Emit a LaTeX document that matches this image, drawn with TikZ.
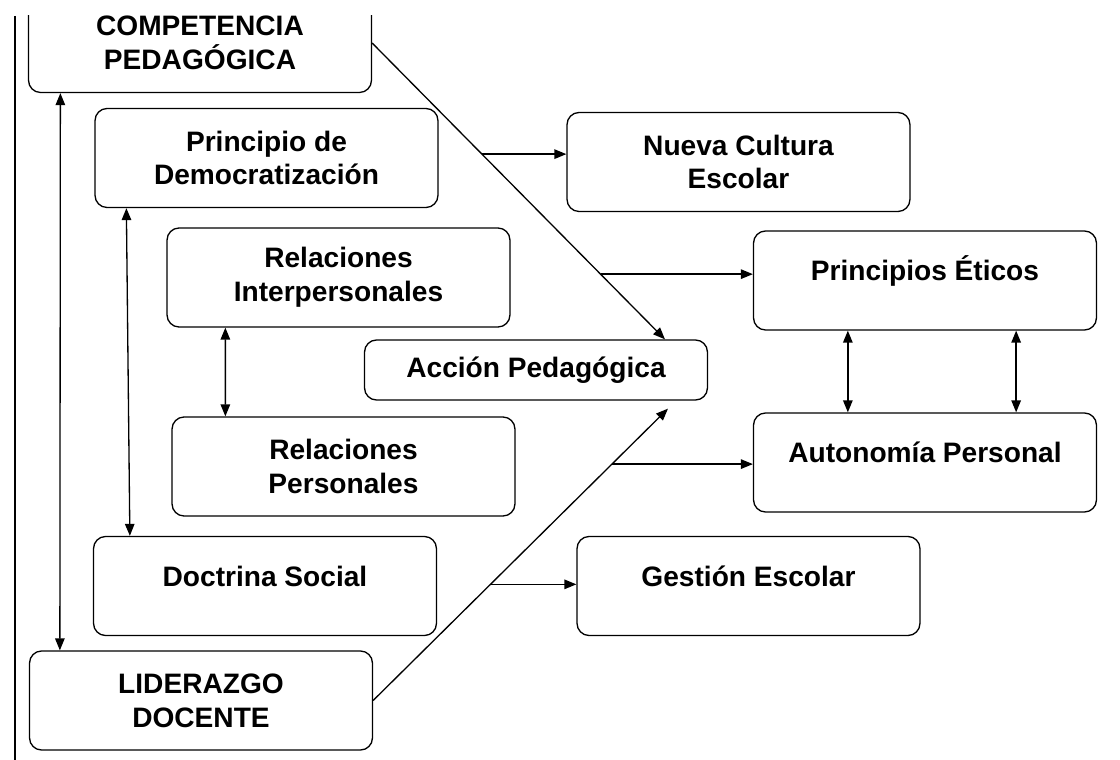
\documentclass[tikz,border=0pt]{standalone}
\usepackage{fontspec}
\setmainfont{Liberation Sans}
\usetikzlibrary{arrows.meta}
\tikzset{
    box/.style={draw, rounded corners=0.24cm, minimum width=6.86cm, minimum height=1.98cm,
        align=center, line width=0.75pt, font=\bfseries\fontsize{16}{19.3}\selectfont},
    hightext/.style={text height=0.45cm, text depth=0.45cm},
}
\begin{document}
\begin{tikzpicture}[x=0.02cm, y=-0.02cm, line width=0.75pt,
    >={Triangle[length=0.24cm, width=0.19cm]}]
    \useasboundingbox (0,0) rectangle (1120,760);
    \clip (0,16) rectangle (1120,760);
    \draw (15,16) -- (15,760);

    \node (comp) [box] at (200, 43) {COMPETENCIA\\PEDAGÓGICA};
    \node (princ) [box] at (266.5, 158) {Principio de\\Democratización};
    \node (nueva) [box] at (738.5, 162) {Nueva Cultura\\Escolar};
    \node (rinter) [box] at (338.5, 277.5) {Relaciones\\Interpersonales};
    \node (etic) [box, hightext] at (925, 280.5) {Principios Éticos};
    \node (accion) [box, minimum height=1.2cm] at (536, 370) {Acción Pedagógica};
    \node (rpers) [box] at (343.5, 466.5) {Relaciones\\Personales};
    \node (auto) [box, hightext] at (925, 462.5) {Autonomía Personal};
    \node (doct) [box, hightext] at (265, 586) {Doctrina Social};
    \node (gest) [box, hightext] at (748.5, 586) {Gestión Escolar};
    \node (lider) [box] at (201, 700.5) {LIDERAZGO\\DOCENTE};

    % vertical links
    \draw[<->] ([xshift=0.65cm]comp.south west) -- ([xshift=0.62cm]lider.north west);
    \draw[<->] ([xshift=0.64cm]princ.south west) -- ([xshift=0.74cm]doct.north west);
    \draw[<->] ([xshift=1.18cm]rinter.south west) -- ([xshift=1.08cm]rpers.north west);
    \draw[<->] ([xshift=1.9cm]etic.south west) -- ([xshift=1.9cm]auto.north west);
    \draw[<->] ([xshift=-1.62cm]etic.south east) -- ([xshift=-1.62cm]auto.north east);

    % diagonals to Accion Pedagogica
    \draw[->] (comp.east) -- ([xshift=2.58cm]accion.north)
        coordinate[pos=0.375] (b1) coordinate[pos=0.78] (b2);
    \draw[->] (lider.east) -- ([xshift=2.64cm, yshift=-0.16cm]accion.south)
        coordinate[pos=0.81] (b3) coordinate[pos=0.398] (b4);

    % branches
    \draw[->] (b1) -- (nueva.west |- b1);
    \draw[->] (b2) -- (etic.west |- b2);
    \draw[->] (b3) -- (auto.west |- b3);
    \draw[->] (b4) -- (gest.west |- b4);
\end{tikzpicture}
\end{document}
